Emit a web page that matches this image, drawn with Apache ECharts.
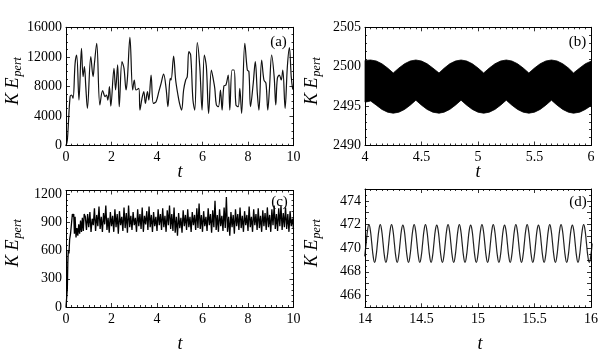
<!DOCTYPE html>
<html><head><meta charset="utf-8">
<script src="https://cdn.jsdelivr.net/npm/echarts@6/dist/echarts.min.js"></script>
<style>html,body{margin:0;padding:0;background:#fff}#c{width:610px;height:356px}</style>
</head><body><div id="c"></div><script>
// ---- panel (a): t in [0,10]
const aT = [0.00,0.06,0.18,0.25,0.31,0.40,0.47,0.57,0.68,0.75,0.81,0.87,0.94,1.09,1.19,1.25,1.35,1.49,1.61,1.72,1.78,1.84,1.91,1.97,2.11,2.18,2.27,2.34,2.46,2.55,2.64,2.70,2.81,2.93,3.00,3.08,3.20,3.25,3.34,3.42,3.49,3.58,3.64,3.74,3.84,3.96,4.08,4.18,4.29,4.40,4.48,4.58,4.62,4.73,4.82,4.92,4.99,5.08,5.17,5.26,5.33,5.40,5.48,5.58,5.66,5.77,5.88,5.98,6.08,6.17,6.27,6.39,6.48,6.54,6.61,6.70,6.79,6.86,6.94,7.03,7.13,7.20,7.30,7.39,7.47,7.57,7.64,7.72,7.86,7.97,8.04,8.11,8.23,8.32,8.41,8.48,8.60,8.70,8.79,8.87,8.94,9.04,9.15,9.22,9.29,9.38,9.46,9.53,9.63,9.73,9.82,9.90,9.96,10.0];
const aV = [0,770,6630,6850,6400,11130,12260,6170,13160,9330,10680,7980,5050,12030,9330,11130,13840,5500,7440,6630,6850,6170,7980,5360,10460,7530,10910,5270,11360,10460,7530,9100,14650,7530,8880,7530,7750,4820,6400,7300,5720,7300,6170,9550,5720,5950,7300,8430,9690,7750,5270,9100,8880,12120,8880,6850,5720,4820,7530,8880,9330,12710,12260,6170,4820,13930,10680,4820,12260,10680,4370,10230,8880,7750,5500,5270,7530,4820,8070,8200,9550,4820,10230,10230,5500,5270,7750,4370,13840,10230,10010,5270,8430,11360,7070,4820,11580,8880,8430,4820,7530,12260,9330,5500,9100,9550,8880,10230,5050,10680,13250,9330,7750,7530];

// ---- panel (b): envelope of the dense oscillation, t in [4,6]
const bT = [4.00,4.05,4.10,4.15,4.20,4.25,4.30,4.35,4.40,4.45,4.50,4.55,4.60,4.655,4.70,4.75,4.80,4.85,4.90,4.95,5.00,5.05,5.10,5.15,5.20,5.25,5.30,5.35,5.40,5.45,5.50,5.55,5.60,5.65,5.70,5.75,5.80,5.845,5.90,5.95,6.00];
const bUpper = [2500.80,2500.85,2500.72,2500.37,2499.83,2499.20,2499.83,2500.37,2500.72,2500.85,2500.72,2500.37,2499.83,2499.20,2499.80,2500.37,2500.72,2500.85,2500.72,2500.37,2499.83,2499.20,2499.83,2500.37,2500.72,2500.85,2500.72,2500.37,2499.83,2499.20,2499.83,2500.37,2500.72,2500.85,2500.72,2500.37,2499.83,2499.20,2499.83,2500.37,2500.70];
const bLower = [2495.50,2495.65,2495.12,2494.58,2494.23,2494.10,2494.23,2494.58,2495.12,2495.75,2495.12,2494.58,2494.23,2494.10,2494.23,2494.58,2495.12,2495.75,2495.12,2494.58,2494.23,2494.10,2494.23,2494.58,2495.12,2495.75,2495.12,2494.58,2494.23,2494.10,2494.23,2494.58,2495.12,2495.75,2495.12,2494.58,2494.23,2494.10,2494.23,2494.58,2495.05];

// ---- panel (c): t in [0,10]
const cInitT = [0,0.03,0.06,0.08,0.10,0.13,0.16,0.20,0.24,0.28,0.31,0.34,0.37,0.40,0.44,0.48,0.52,0.56,0.60,0.64,0.68,0.72,0.76,0.80];
const cInitV = [0,0,200,480,600,570,720,780,800,990,960,990,780,960,740,840,760,880,780,920,800,950,810,990];
const cStartT = 0.85, cStep = 0.05;
const cV = [
960,820,990,850,1010,800,940,870,1050,810,980,860,1070,830,960,800,1000,880,1080,820,
950,790,1010,860,970,800,1040,850,990,780,1020,870,960,810,1060,840,1000,790,1080,850,
970,820,1010,870,950,800,1040,860,990,830,1060,800,970,880,1020,820,1070,850,980,800,
1010,860,960,810,1040,870,990,820,1050,850,970,800,1030,870,1080,830,990,810,1060,790,
960,760,1000,840,950,790,1030,860,980,820,1040,850,960,800,1010,870,980,820,1050,840,
1100,830,980,800,1020,860,960,810,1050,870,990,790,1030,850,1130,820,980,800,1040,860,
970,810,1060,840,1170,800,960,760,1010,850,980,780,1040,860,990,820,1060,840,970,800,
1020,870,980,810,1070,850,960,800,1040,870,990,820,1050,840,970,800,1030,860,1000,820,
1060,850,980,800,1040,870,1080,830,990,810,1050,860,1080,820,1000,850,1060,830,990,800,
1020,860,940,830];

// ---- panel (d): t in [14,16]
const dStartT = 13.9975, dStep = 0.0125;
const dV = [
469.3,470.4,471.5,472.0,471.5,470.4,469.3,468.8, 469.3,470.4,471.5,472.0,471.5,470.4,469.3,468.8,
469.3,470.4,471.5,472.0,471.5,470.4,469.3,468.8, 469.3,470.4,471.5,471.95,471.5,470.4,469.3,468.8,
469.3,470.4,471.5,472.0,471.5,470.4,469.3,468.8, 469.3,470.4,471.5,472.0,471.5,470.4,469.3,468.8,
469.3,470.4,471.5,471.95,471.5,470.4,469.3,468.8, 469.3,470.4,471.5,472.0,471.5,470.4,469.3,468.8,
469.3,470.4,471.5,472.0,471.5,470.4,469.3,468.8, 469.3,470.4,471.5,471.95,471.5,470.4,469.3,468.8,
469.3,470.4,471.5,472.0,471.5,470.4,469.3,468.8, 469.3,470.4,471.5,472.0,471.5,470.4,469.3,468.8,
469.3,470.4,471.5,471.95,471.5,470.4,469.3,468.8, 469.3,470.4,471.5,472.0,471.5,470.4,469.3,468.8,
469.3,470.4,471.5,472.0,471.5,470.4,469.3,468.8, 469.3,470.4,471.5,471.95,471.5,470.4,469.3,468.8,
469.3,470.4,471.5,472.0,471.5,470.4,469.3,468.8, 469.3,470.4,471.5,472.0,471.5,470.4,469.3,468.8,
469.3,470.4,471.5,471.95,471.5,470.4,469.3,468.8, 469.3,470.4,471.5,472.0,471.5,470.4,469.3,468.8,
469.3,470.4];

// titles and panel tags
const yTitle = '{m|K E}{s|pert}';
const xTitle = 't';
const panelLabels = ['(a)','(b)','(c)','(d)'];

const FONT = 'Liberation Serif';
function axis(kind, grid, min, max, interval, minorSplit, pos, labels, fmt) {
  return {
    type:'value', gridIndex:grid, min:min, max:max, interval:interval, position:pos, z:10,
    axisLine:{show:true, onZero:false, lineStyle:{color:'#000', width:1}},
    axisTick:{show:true, inside:true, length:4, lineStyle:{color:'#000', width:0.8}},
    minorTick:{show:true, splitNumber:minorSplit, length:2, lineStyle:{color:'#000', width:0.8}},
    splitLine:{show:false}, minorSplitLine:{show:false},
    axisLabel:{show:labels, color:'#000', fontFamily:FONT, fontSize:14,
      margin: kind==='x' ? 5 : 4, showMinLabel:true, showMaxLabel:true,
      formatter: fmt || (v=>String(v))}
  };
}
const grids = [
  {left:66, top:27.3, width:227.5, height:118.4},
  {left:365, top:27.3, width:226, height:118.2},
  {left:66, top:190.5, width:227.5, height:116.5},
  {left:365, top:189, width:226, height:118.3}
];
const xs = [], ys = [];
const xCfg = [[0,10,2,8],[4,6,0.5,10],[0,10,2,8],[14,16,0.5,10]];
const yCfg = [[0,16000,4000,4,null],[2490,2505,5,5,null],[0,1240,300,5,v=>(v%300===0?String(v):'')],[465,475,1,2,v=>(v%2===0?String(v):'')]];
for (let g=0; g<4; g++) {
  const [x0,x1,xi,xm] = xCfg[g];
  xs.push(axis('x', g, x0,x1,xi,xm,'bottom',true));
  xs.push(axis('x', g, x0,x1,xi,xm,'top',false));
  const [y0,y1,yi,ym,yf] = yCfg[g];
  ys.push(axis('y', g, y0,y1,yi,ym,'left',true,yf));
  ys.push(axis('y', g, y0,y1,yi,ym,'right',false,yf));
}

const aData = aT.map((t,i)=>[t,aV[i]]);
const cData = cInitT.map((t,i)=>[t,cInitV[i]]).concat(cV.map((v,i)=>[cStartT+i*cStep, v]));
const dData = dV.map((v,i)=>[dStartT+i*dStep, v]);

const titlePos = [[13,81],[312,81],[13,243],[312,243]];
const tPos = [[180,172],[478,172],[180,344],[480,344]];
const lblPos = [[278.5,42],[577.5,42],[279.5,202.5],[578,202]];
const graphics = [];
for (let g=0; g<4; g++) {
  graphics.push({type:'text', x:titlePos[g][0], y:titlePos[g][1], rotation:Math.PI/2, z:100,
    style:{text:yTitle, align:'center', verticalAlign:'middle', fill:'#000',
      rich:{m:{fontFamily:FONT, fontStyle:'italic', fontSize:18, fill:'#000'},
            s:{fontFamily:FONT, fontStyle:'italic', fontSize:12, fill:'#000', padding:[9,0,0,1]}}}});
  graphics.push({type:'text', x:tPos[g][0], y:tPos[g][1], z:100,
    style:{text:xTitle, align:'center', verticalAlign:'middle', fill:'#000',
      fontFamily:FONT, fontStyle:'italic', fontSize:18}});
  graphics.push({type:'text', x:lblPos[g][0], y:lblPos[g][1], z:100,
    style:{text:panelLabels[g], align:'center', verticalAlign:'middle', fill:'#000',
      fontFamily:FONT, fontSize:15}});
}

const chart = echarts.init(document.getElementById('c'), null, {renderer:'canvas'});
chart.setOption({
  animation:false,
  backgroundColor:'#fff',
  grid:grids, xAxis:xs, yAxis:ys,
  graphic:graphics,
  series:[
    {type:'line', xAxisIndex:0, yAxisIndex:0, data:aData, symbol:'none', smooth:0.35,
     lineStyle:{color:'#111', width:1.2}},
    {type:'custom', xAxisIndex:2, yAxisIndex:2, data:[[bT[0], bLower[0]]],
     renderItem:function(params, api){
       const pts = [];
       for (let i=0;i<bT.length;i++) pts.push(api.coord([bT[i], bUpper[i]]));
       for (let i=bT.length-1;i>=0;i--) pts.push(api.coord([bT[i], bLower[i]]));
       return {type:'polygon', shape:{points:pts}, style:{fill:'#000', stroke:'#000', lineWidth:0.8}};
     }},
    {type:'line', xAxisIndex:4, yAxisIndex:4, data:cData, symbol:'none',
     lineStyle:{color:'#000', width:1.3}},
    {type:'line', xAxisIndex:6, yAxisIndex:6, data:dData, symbol:'none', smooth:true,
     lineStyle:{color:'#222', width:1.2}}
  ]
});
</script></body></html>
